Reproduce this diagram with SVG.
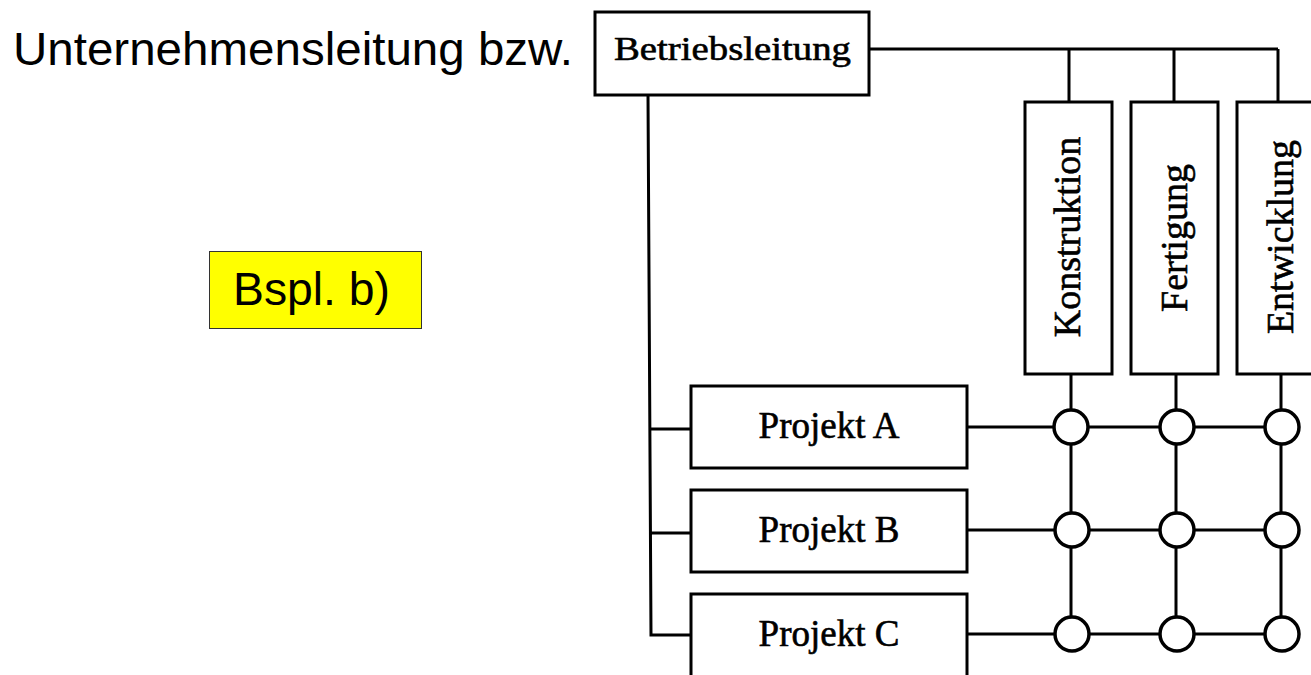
<svg xmlns="http://www.w3.org/2000/svg" width="1311" height="675" viewBox="0 0 1311 675">
  <style>
    .box { fill: #ffffff; stroke: #000000; stroke-width: 3; }
    .wire { fill: none; stroke: #000000; stroke-width: 3; }
    .node { fill: #ffffff; stroke: #000000; stroke-width: 3.5; }
    .serif { font-family: "Liberation Serif", "DejaVu Serif", serif; fill: #000000; stroke: #000000; stroke-width: 0.6; }
    .sans { font-family: "Liberation Sans", Arial, sans-serif; fill: #000000; }
  </style>
  <rect x="0" y="0" width="1311" height="675" fill="#ffffff"/>

  <!-- connectors -->
  <g id="connectors">
    <!-- top bus from management to functional departments -->
    <path class="wire" d="M869 49 H1278 M1069 49 V102 M1174 49 V102 M1278 49 V102"/>
    <!-- project trunk -->
    <path class="wire" d="M648 95 L651 635 H691 M651 429 H691 M651 533 H691"/>
    <!-- project rows into the matrix -->
    <path class="wire" d="M967 427 H1282 M967 530 H1282 M967 634 H1282"/>
    <!-- department columns down through the matrix -->
    <path class="wire" d="M1071 374 V634 M1176 374 V634 M1281 374 V634"/>
  </g>

  <!-- matrix nodes -->
  <g id="matrix-nodes">
    <circle class="node" cx="1071" cy="427" r="17"/>
    <circle class="node" cx="1177" cy="427" r="17"/>
    <circle class="node" cx="1282" cy="427" r="17"/>
    <circle class="node" cx="1072" cy="530" r="17"/>
    <circle class="node" cx="1177" cy="530" r="17"/>
    <circle class="node" cx="1282" cy="530" r="17"/>
    <circle class="node" cx="1072" cy="634" r="17"/>
    <circle class="node" cx="1177" cy="634" r="17"/>
    <circle class="node" cx="1282" cy="634" r="17"/>
  </g>

  <g id="title">
    <text class="sans" x="13" y="65" font-size="47" textLength="560" lengthAdjust="spacingAndGlyphs">Unternehmensleitung bzw.</text>
  </g>

  <g id="example-label">
    <rect x="209.5" y="251.5" width="212" height="77" fill="#ffff00" stroke="#333333" stroke-width="1"/>
    <text class="sans" x="233" y="305" font-size="46" textLength="157" lengthAdjust="spacingAndGlyphs">Bspl. b)</text>
  </g>

  <g id="betriebsleitung">
    <rect class="box" x="595" y="12" width="274" height="83"/>
    <text class="serif" x="614" y="60" font-size="34" textLength="237" lengthAdjust="spacingAndGlyphs">Betriebsleitung</text>
  </g>

  <g id="konstruktion">
    <rect class="box" x="1025" y="102" width="87" height="272"/>
    <text class="serif" transform="translate(1080 237) rotate(-90)" text-anchor="middle" font-size="38">Konstruktion</text>
  </g>

  <g id="fertigung">
    <rect class="box" x="1131" y="102" width="87" height="272"/>
    <text class="serif" transform="translate(1187 238) rotate(-90)" text-anchor="middle" font-size="38">Fertigung</text>
  </g>

  <g id="entwicklung">
    <rect class="box" x="1237" y="102" width="90" height="272"/>
    <text class="serif" transform="translate(1293 237) rotate(-90)" text-anchor="middle" font-size="38">Entwicklung</text>
  </g>

  <g id="projekt-a">
    <rect class="box" x="691" y="386" width="276" height="82"/>
    <text class="serif" x="829" y="438" text-anchor="middle" font-size="37">Projekt A</text>
  </g>

  <g id="projekt-b">
    <rect class="box" x="691" y="490" width="276" height="82"/>
    <text class="serif" x="829" y="542" text-anchor="middle" font-size="37">Projekt B</text>
  </g>

  <g id="projekt-c">
    <rect class="box" x="691" y="594" width="276" height="90"/>
    <text class="serif" x="829" y="646" text-anchor="middle" font-size="37">Projekt C</text>
  </g>
</svg>
